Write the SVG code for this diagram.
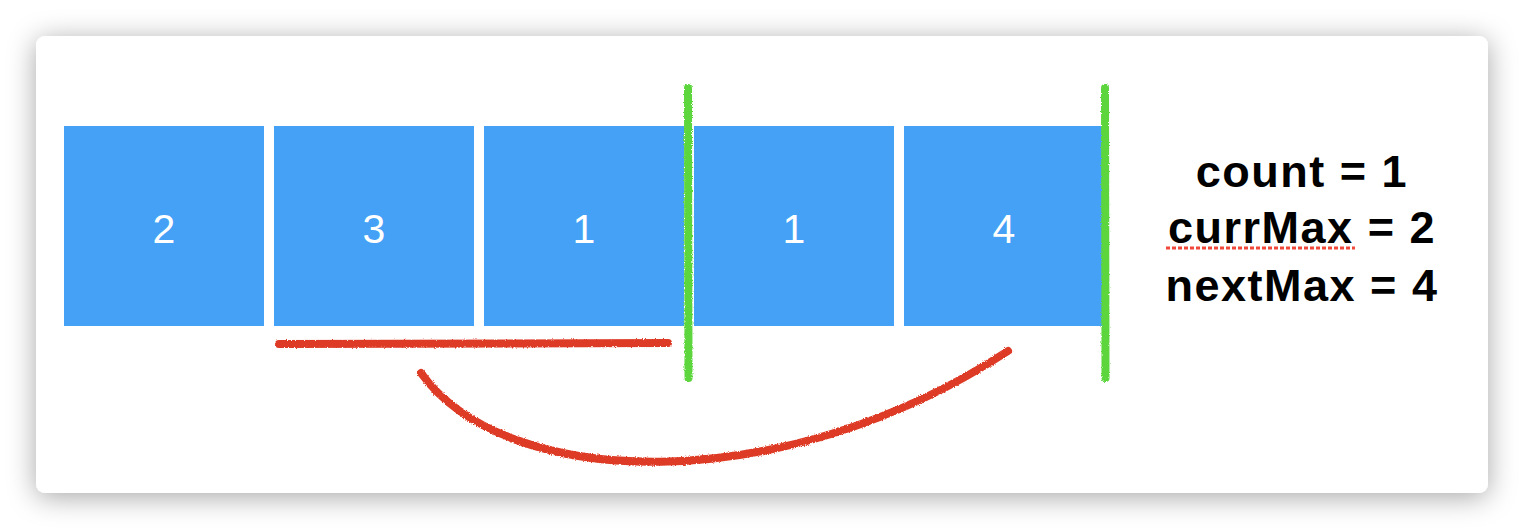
<svg xmlns="http://www.w3.org/2000/svg" width="1524" height="530" viewBox="0 0 1524 530">
  <style>
    .box { fill: #44A1F6; }
    .num { font-family: "Liberation Sans", Arial, sans-serif; font-size: 41px; fill: #ffffff; text-anchor: middle; }
    .info { font-family: "Liberation Sans", Arial, sans-serif; font-size: 45px; font-weight: bold; fill: #000000; text-anchor: middle; letter-spacing: 1.5px; }
    .chalk-red { fill: none; stroke: #DE3B26; stroke-width: 8; stroke-linecap: round; filter: url(#rough); }
    .chalk-green { fill: none; stroke: #5DD63E; stroke-width: 8; stroke-linecap: round; filter: url(#rough); }
  </style>
  <defs>
    <filter id="shadow" x="-10%" y="-20%" width="120%" height="140%">
      <feDropShadow dx="0" dy="4" stdDeviation="14" flood-color="#000000" flood-opacity="0.35"/>
    </filter>
    <filter id="rough" filterUnits="userSpaceOnUse" x="0" y="0" width="1524" height="530">
      <feTurbulence type="fractalNoise" baseFrequency="0.9" numOctaves="2" seed="3" result="noise"/>
      <feDisplacementMap in="SourceGraphic" in2="noise" scale="3" xChannelSelector="R" yChannelSelector="G"/>
    </filter>
  </defs>
  <rect x="0" y="0" width="1524" height="530" fill="#ffffff"/>
  <rect id="card" x="36" y="36" width="1452" height="457" rx="9" fill="#ffffff" filter="url(#shadow)"/>

  <g id="node-1"><rect class="box" x="64" y="126" width="200" height="200"/><text class="num" x="164" y="243">2</text></g>
  <g id="node-2"><rect class="box" x="274" y="126" width="200" height="200"/><text class="num" x="374" y="243">3</text></g>
  <g id="node-3"><rect class="box" x="484" y="126" width="200" height="200"/><text class="num" x="584" y="243">1</text></g>
  <g id="node-4"><rect class="box" x="694" y="126" width="200" height="200"/><text class="num" x="794" y="243">1</text></g>
  <g id="node-5"><rect class="box" x="904" y="126" width="200" height="200"/><text class="num" x="1004" y="243">4</text></g>

  <g id="connectors">
    <path class="chalk-green" d="M688 88 L688.5 378"/>
    <path class="chalk-green" d="M1105 88 L1105.5 378"/>
    <path class="chalk-red" d="M279 344 L668 343"/>
    <path class="chalk-red" d="M421 373 C 505 490, 780 500, 1008 351"/>
  </g>

  <g id="info">
    <text class="info" x="1302" y="187">count = 1</text>
    <text class="info" x="1302" y="243">currMax = 2</text>
    <text class="info" x="1302" y="301">nextMax = 4</text>
    <line x1="1166" y1="248" x2="1355" y2="248" stroke="#F0483A" stroke-width="3" stroke-dasharray="4 2"/>
  </g>
</svg>
